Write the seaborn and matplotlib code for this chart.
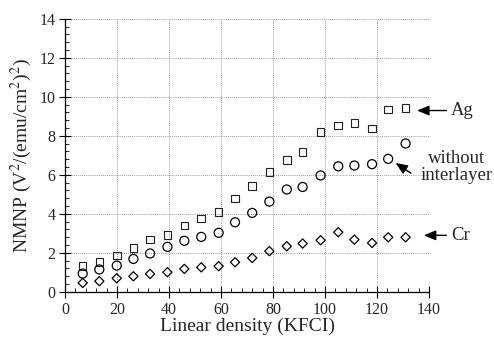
import numpy as np
import pandas as pd
import matplotlib
matplotlib.use("Agg")
import matplotlib.pyplot as plt
import seaborn as sns
from matplotlib.ticker import MultipleLocator

# values
density = [6.8, 13.2, 19.9, 26.3, 32.7, 39.4, 45.9, 52.4, 59.1, 65.4,
           72.0, 78.6, 85.3, 91.4, 98.3, 105.1, 111.3, 118.1, 124.3, 131.0]
nmnp_ag = [1.32, 1.54, 1.86, 2.26, 2.68, 2.92, 3.40, 3.76, 4.10, 4.79,
           5.42, 6.14, 6.75, 7.18, 8.20, 8.53, 8.67, 8.38, 9.35, 9.44]
nmnp_none = [0.94, 1.15, 1.35, 1.69, 1.97, 2.31, 2.62, 2.82, 3.03, 3.57,
             4.05, 4.63, 5.25, 5.38, 5.97, 6.44, 6.48, 6.55, 6.82, 7.61]
nmnp_cr = [0.46, 0.55, 0.70, 0.80, 0.92, 1.01, 1.18, 1.26, 1.32, 1.52,
           1.74, 2.09, 2.34, 2.48, 2.65, 3.06, 2.68, 2.51, 2.80, 2.80]

df = pd.DataFrame({"density": density, "Ag": nmnp_ag,
                   "without interlayer": nmnp_none, "Cr": nmnp_cr})

sns.set_style("white")
plt.rcParams["font.family"] = ["Liberation Serif", "DejaVu Serif"]
plt.rcParams["mathtext.fontset"] = "stix"

fig = plt.figure(figsize=(4.94, 3.43), dpi=100)
ax = fig.add_axes([0.1316, 0.149, 0.7368, 0.796])

sns.scatterplot(data=df, x="density", y="Ag", marker="s", s=30,
                facecolor="none", edgecolor="#222222", linewidth=0.8, ax=ax)
sns.scatterplot(data=df, x="density", y="without interlayer", marker="o", s=42,
                facecolor="none", edgecolor="black", linewidth=0.9, ax=ax)
sns.scatterplot(data=df, x="density", y="Cr", marker="D", s=22,
                facecolor="none", edgecolor="black", linewidth=0.9, ax=ax)

ax.set_xlim(0, 140)
ax.set_ylim(0, 14)
ax.xaxis.set_major_locator(MultipleLocator(20))
ax.xaxis.set_minor_locator(MultipleLocator(4))
ax.yaxis.set_major_locator(MultipleLocator(2))
ax.yaxis.set_minor_locator(MultipleLocator(0.4))
ax.tick_params(which="major", direction="inout", length=8, width=0.8,
               labelsize=11.5, color="black", pad=3)
ax.tick_params(which="minor", direction="in", length=3, width=0.6, color="black")
ax.tick_params(axis="x", which="both", top=False, bottom=True)
ax.tick_params(axis="y", which="both", right=False, left=True)

ax.grid(True, which="major", linestyle=(0, (1, 1.5)), linewidth=0.6, color="#777777")
ax.xaxis.get_gridlines()[-1].set_visible(False)
for side in ["top", "right"]:
    ax.spines[side].set_visible(False)
for side in ["left", "bottom"]:
    ax.spines[side].set_color("black")
    ax.spines[side].set_linewidth(0.9)

ax.set_xlabel("Linear density (KFCI)", fontsize=14, labelpad=0)
ax.set_ylabel(r"NMNP (V$^2$/(emu/cm$^2$)$^2$)", fontsize=14, labelpad=4)

arrow = dict(arrowstyle="-|>,head_length=0.6,head_width=0.25", color="black",
             lw=1.0, mutation_scale=12, shrinkA=1, shrinkB=1)
ax.annotate("Ag", xy=(134.9, 9.3), xytext=(148.5, 9.3), va="center",
            ha="left", fontsize=13.5, arrowprops=arrow, annotation_clip=False)
ax.annotate("Cr", xy=(137.5, 2.9), xytext=(148.5, 2.9), va="center",
            ha="left", fontsize=13.5, arrowprops=arrow, annotation_clip=False)
ax.annotate("", xy=(126.7, 6.65), xytext=(133.5, 6.05),
            arrowprops=arrow, annotation_clip=False)
ax.text(150.5, 6.4, "without\ninterlayer", ha="center", va="center",
        fontsize=13.5, linespacing=0.95, clip_on=False)

fig.savefig("out.png", dpi=100)
